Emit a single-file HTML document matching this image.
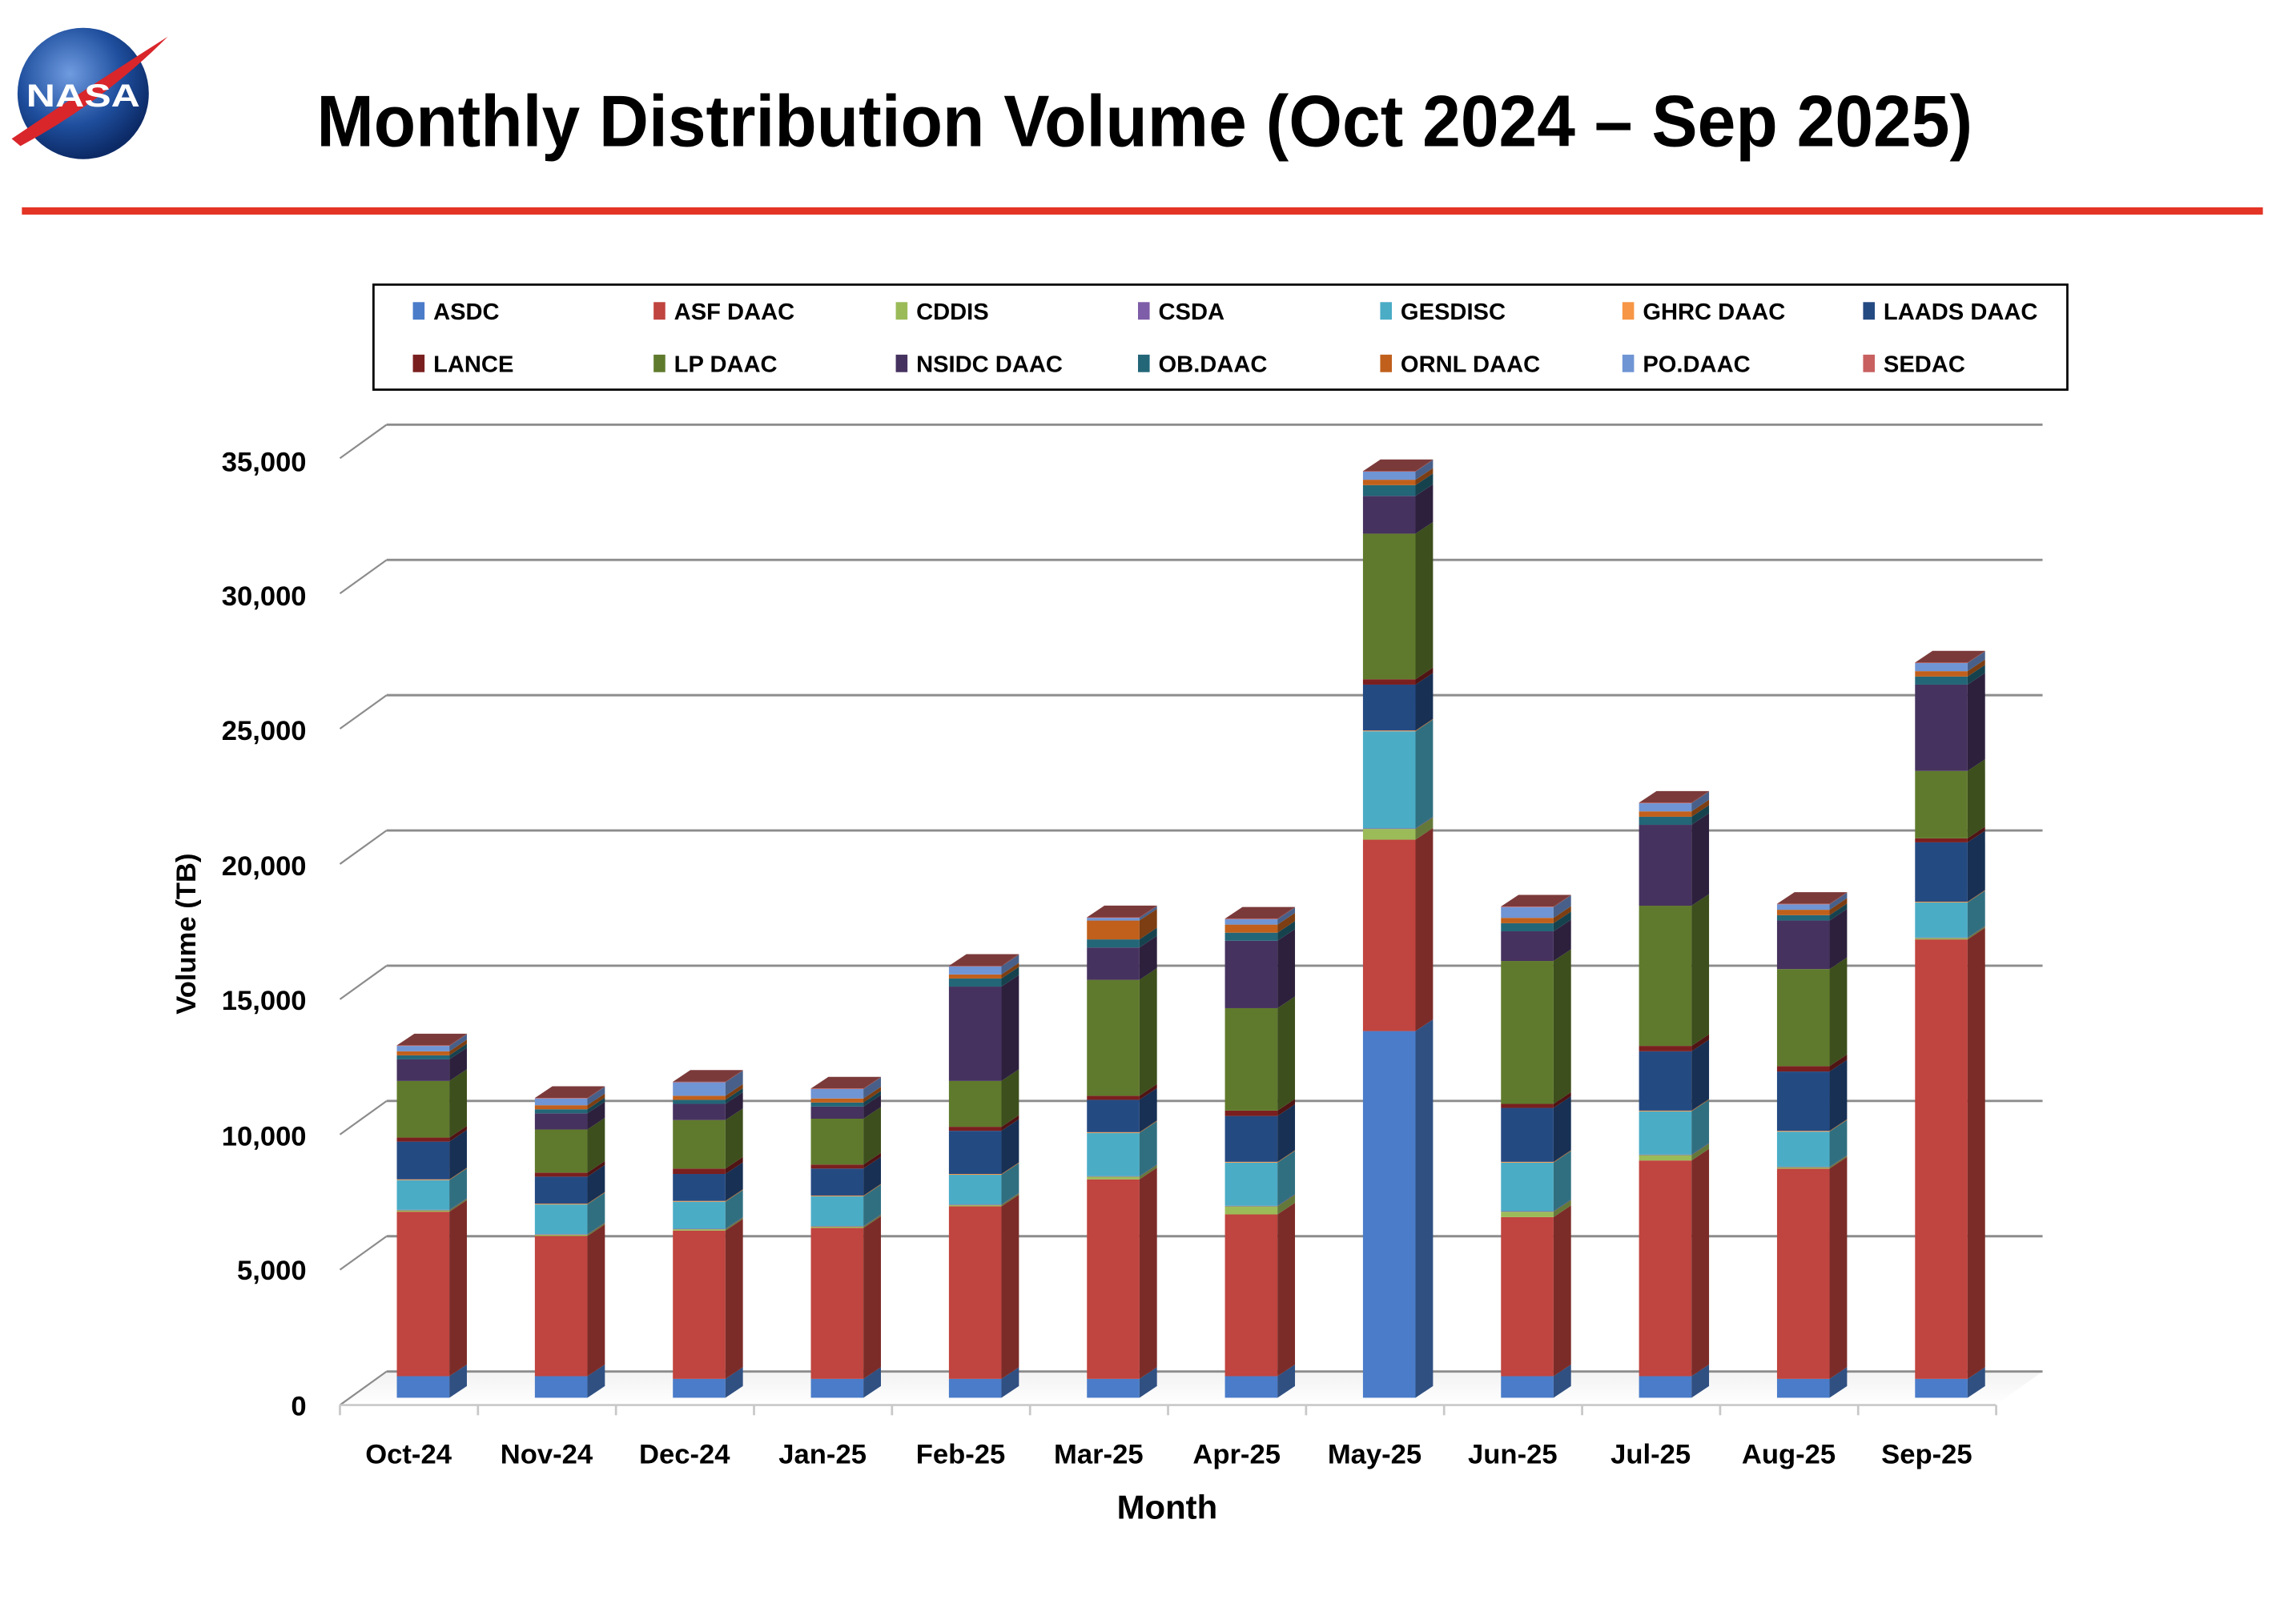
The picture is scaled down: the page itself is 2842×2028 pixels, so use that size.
<!DOCTYPE html>
<html><head><meta charset="utf-8"><style>
html,body{margin:0;padding:0;background:#fff;}
svg{display:block;}
text{font-family:"Liberation Sans",sans-serif;font-weight:bold;fill:#000;}
</style></head><body>
<svg id="s" width="2842" height="2028" viewBox="0 0 1560 1113" xmlns="http://www.w3.org/2000/svg">
<defs>
<radialGradient id="glb" cx="40%" cy="35%" r="65%"><stop offset="0" stop-color="#6f9be0"/><stop offset="0.6" stop-color="#1f4f9e"/><stop offset="1" stop-color="#0c2a66"/></radialGradient>
<linearGradient id="floor" x1="0" y1="0" x2="0" y2="1"><stop offset="0" stop-color="#f2f2f2"/><stop offset="1" stop-color="#fff"/></linearGradient>
</defs>
<circle cx="57" cy="64" r="45" fill="url(#glb)"/>
<path d="M8,95 Q60,60 115,25 Q70,70 14,100 Z" fill="#d9262b"/>
<text x="57" y="73" text-anchor="middle" font-size="22" style="fill:#fff" textLength="78" lengthAdjust="spacingAndGlyphs">NASA</text>
<text x="217" y="100" font-size="50" textLength="1135" lengthAdjust="spacingAndGlyphs">Monthly Distribution Volume (Oct 2024 – Sep 2025)</text>
<rect x="15" y="142" width="1536" height="5" fill="#e33426"/>
<rect x="256" y="195" width="1161" height="72" fill="#fff" stroke="#000" stroke-width="1.5"/>
<g id="leg" font-size="16"></g>
<g id="grid"></g>
<g id="bars"></g>
<g font-size="19" text-anchor="end">
<text x="210" y="970">0</text><text x="210" y="877">5,000</text><text x="210" y="785">10,000</text><text x="210" y="692">15,000</text><text x="210" y="600">20,000</text><text x="210" y="507">25,000</text><text x="210" y="415">30,000</text><text x="210" y="323">35,000</text>
</g>
<g font-size="19" text-anchor="middle" id="cats"></g>
<text x="800" y="1041" font-size="23" text-anchor="middle">Month</text>
<text transform="translate(134,640) rotate(-90)" font-size="19" text-anchor="middle">Volume (TB)</text>
</svg>
<script>
var ns="http://www.w3.org/2000/svg";
function el(p,t,a,txt){var e=document.createElementNS(ns,t);for(var k in a)e.setAttribute(k,a[k]);if(txt)e.textContent=txt;p.appendChild(e);return e;}
var names=["ASDC","ASF DAAC","CDDIS","CSDA","GESDISC","GHRC DAAC","LAADS DAAC","LANCE","LP DAAC","NSIDC DAAC","OB.DAAC","ORNL DAAC","PO.DAAC","SEDAC"];
var cols=["#4a7cc9","#c0443f","#9bbb59","#7e5ea8","#4bacc6","#f79646","#244a82","#7a1f1f","#5f7a2c","#46325f","#236678","#c0601c","#6f95d4","#c86060"];
function dark(c,f){var n=parseInt(c.slice(1),16);var r=(n>>16)*f|0,g=((n>>8)&255)*f|0,b=(n&255)*f|0;return"rgb("+r+","+g+","+b+")";}
var leg=document.getElementById("leg");
var lx=[283,448,614,780,946,1112,1277];
for(var i=0;i<14;i++){var x=lx[i%7],y=i<7?213:249;
el(leg,"rect",{x:x,y:y-6,width:8,height:12,fill:cols[i]});
el(leg,"text",{x:x+14,y:y+6,"font-size":16},names[i]);}
var g=document.getElementById("grid");
el(g,"polygon",{points:"233,963 265,940 1400,940 1368,963",fill:"url(#floor)"});
for(var v=0;v<=35000;v+=5000){var yb=940-v*0.018543,yf=yb+23;
el(g,"line",{x1:265,y1:yb,x2:1400,y2:yb,stroke:"#8c8c8c","stroke-width":1.6});
el(g,"line",{x1:233,y1:yf,x2:265,y2:yb,stroke:"#8c8c8c","stroke-width":1.2});}
el(g,"line",{x1:233,y1:963,x2:1368,y2:963,stroke:"#c8c8c8","stroke-width":1.5});
for(var k=0;k<=12;k++){var tx=233+k*94.6;el(g,"line",{x1:tx,y1:963,x2:tx,y2:970,stroke:"#c8c8c8","stroke-width":1.5});}
var months=["Oct-24","Nov-24","Dec-24","Jan-25","Feb-25","Mar-25","Apr-25","May-25","Jun-25","Jul-25","Aug-25","Sep-25"];
var data=[
[800,6100,50,20,1100,30,1400,150,2100,800,150,150,200,20],
[800,5200,50,20,1100,30,1000,150,1600,600,150,150,250,20],
[700,5500,50,20,1000,30,1000,200,1800,600,150,150,500,20],
[700,5600,50,20,1100,30,1000,150,1700,450,150,150,350,20],
[700,6400,50,20,1100,30,1600,150,1700,3500,300,150,300,20],
[700,7400,100,20,1600,30,1200,150,4300,1200,300,700,100,20],
[800,6000,300,20,1600,30,1700,200,3800,2500,300,300,200,20],
[13600,7100,400,20,3600,30,1700,200,5400,1400,400,200,300,20],
[800,5900,200,20,1800,30,2000,150,5300,1100,300,200,400,20],
[800,8000,200,20,1600,30,2200,200,5200,3000,300,200,300,20],
[700,7800,50,20,1300,30,2200,200,3600,1800,200,200,200,20],
[700,16300,50,20,1300,30,2200,150,2500,3200,300,200,300,20]];
var b=document.getElementById("bars"),cats=document.getElementById("cats");
var sc=0.01848,y0=958,W=36,dx=12,dy=8;
for(var m=0;m<12;m++){var c=280+m*94.6,xl=c-8,cum=0;
el(cats,"text",{x:c,y:1003},months[m]);
for(var i=0;i<14;i++){var v=data[m][i];var ya=y0-cum*sc,yb=y0-(cum+v)*sc;cum+=v;
el(b,"rect",{x:xl,y:yb,width:W,height:ya-yb,fill:cols[i]});
el(b,"polygon",{points:(xl+W)+","+ya+" "+(xl+W+dx)+","+(ya-dy)+" "+(xl+W+dx)+","+(yb-dy)+" "+(xl+W)+","+yb,fill:dark(cols[i],0.65)});}
var yt=y0-cum*sc;
el(b,"polygon",{points:xl+","+yt+" "+(xl+dx)+","+(yt-dy)+" "+(xl+W+dx)+","+(yt-dy)+" "+(xl+W)+","+yt,fill:"#7b3a3a"});}
</script>
</body></html>
